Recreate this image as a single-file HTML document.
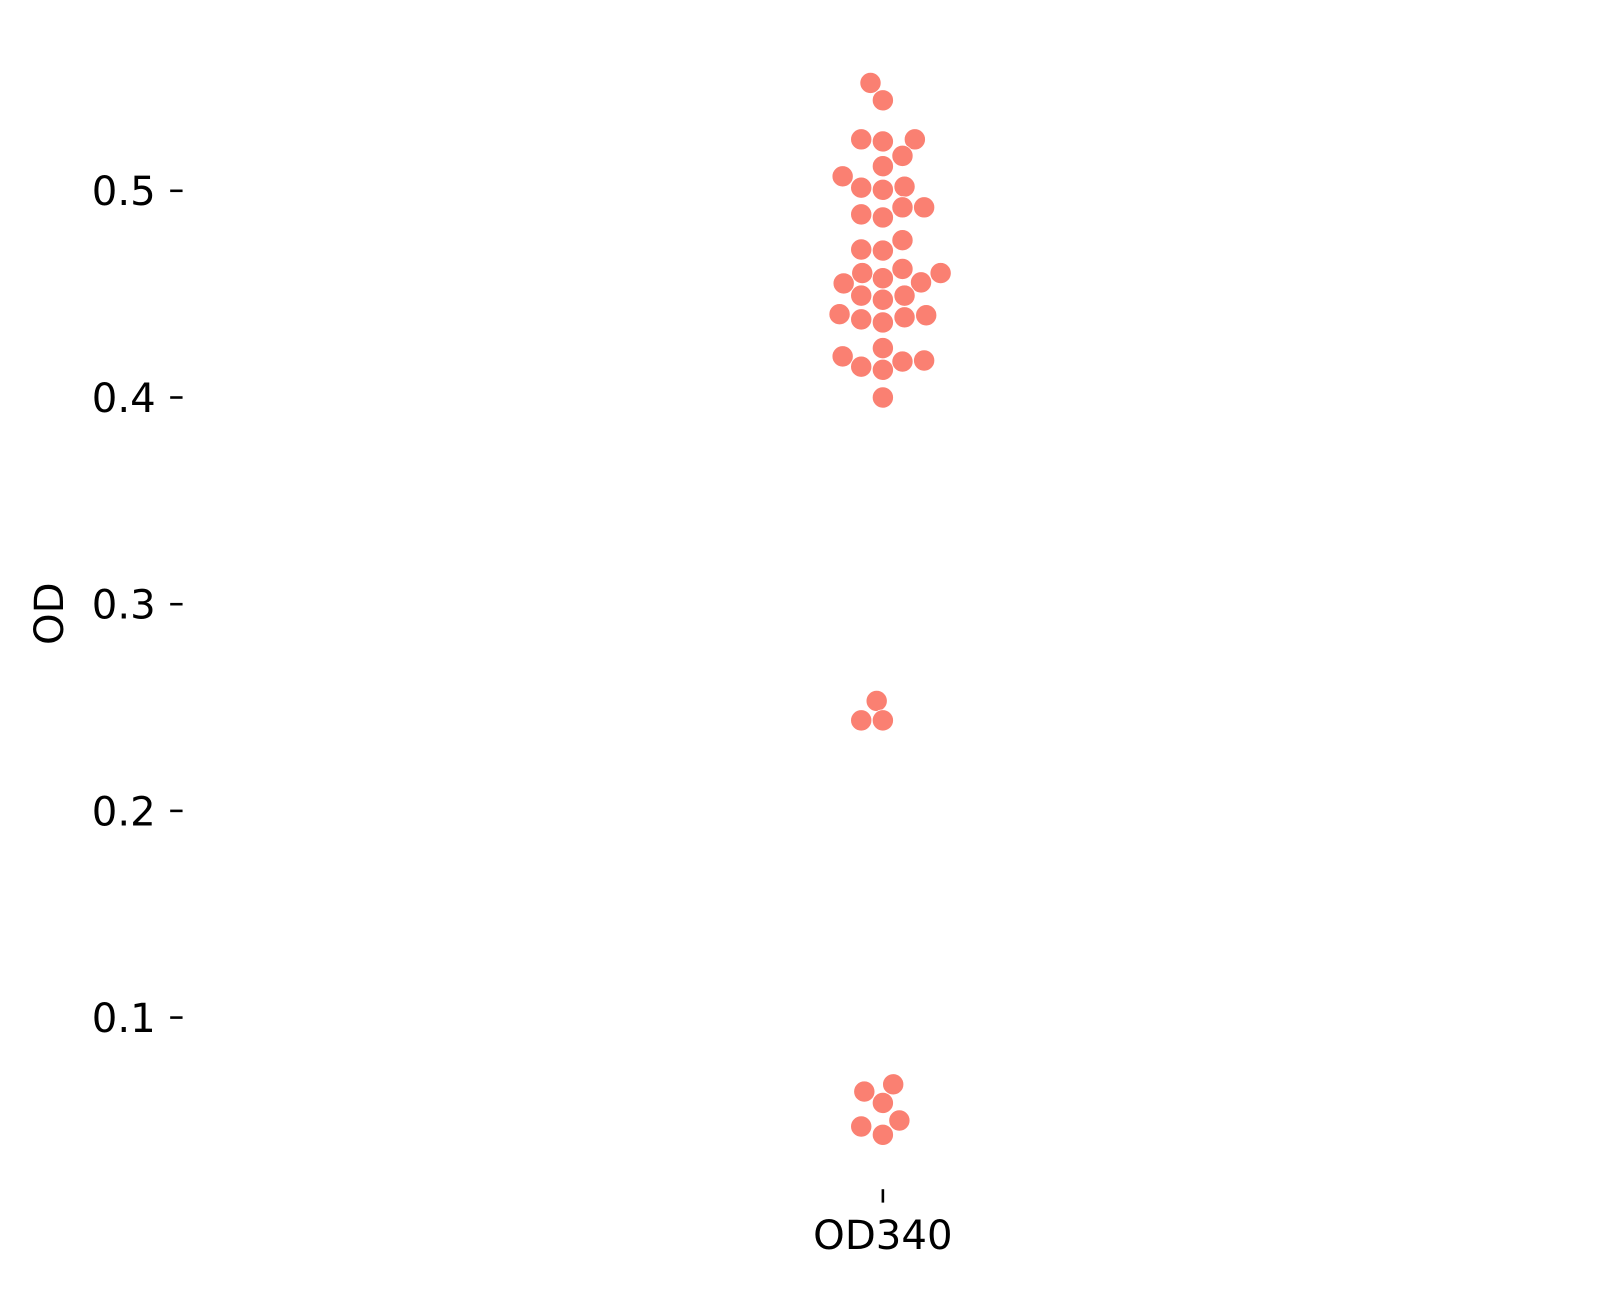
<!DOCTYPE html>
<html><head><meta charset="utf-8"><style>
body{margin:0;background:#fff}
svg text{font-family:"DejaVu Sans","Liberation Sans",sans-serif;font-size:39px;fill:#000}
</style></head><body>
<svg width="1609" height="1286">
<g id="c" transform="scale(1.0314)">
<text x="61" y="595" text-anchor="middle" transform="rotate(-90 61 595)">OD</text>
</g>
</svg>
<script>
const categories=["OD340"];
const values=[0.5522,0.5438,0.5249,0.5239,0.5249,0.5169,0.5119,0.5070,0.5015,0.5005,0.5020,0.4886,0.4871,0.4920,0.4920,0.4716,0.4711,0.4761,0.4552,0.4602,0.4577,0.4622,0.4557,0.4602,0.4493,0.4473,0.4493,0.4403,0.4378,0.4363,0.4388,0.4398,0.4239,0.4199,0.4149,0.4134,0.4174,0.4179,0.4000,0.2532,0.2438,0.2438,0.0642,0.0677,0.0587,0.0502,0.0473,0.0433];
const offsets=[-12,0,-21,0,31,19,0,-39,-21,0,21,-21,0,19,40,-21,0,19,-38,-20,0,19,37,56,-21,0,21,-42,-21,0,21,42,0,-39,-21,0,19,40,0,-6,-21,0,-18,10,0,16,-21,0];
const yTicks=[0.1,0.2,0.3,0.4,0.5];
const svg=document.getElementById('c');const NS="http://www.w3.org/2000/svg";
const y=v=>185+(0.5-v)*2004;
const x=()=>856;
yTicks.forEach(t=>{
 const l=document.createElementNS(NS,'line');
 
 
 l.setAttribute('x1',165);l.setAttribute('x2',177);l.setAttribute('y1',y(t));l.setAttribute('y2',y(t));l.setAttribute('stroke','#000');l.setAttribute('stroke-width','2.5');svg.appendChild(l);
 const tx=document.createElementNS(NS,'text');
 
 
 tx.setAttribute('x',151);tx.setAttribute('y',y(t)+14);tx.setAttribute('text-anchor','end');tx.textContent=t.toFixed(1);svg.appendChild(tx);
});
categories.forEach(c=>{
 const l=document.createElementNS(NS,'line');
 
 
 l.setAttribute('x1',x());l.setAttribute('x2',x());l.setAttribute('y1',1153);l.setAttribute('y2',1166);l.setAttribute('stroke','#000');l.setAttribute('stroke-width','2.5');svg.appendChild(l);
 const tx=document.createElementNS(NS,'text');
 
 
 tx.setAttribute('x',x());tx.setAttribute('y',1211);tx.setAttribute('text-anchor','middle');tx.textContent=c;svg.appendChild(tx);
});
values.forEach((v,i)=>{
 const d=document.createElementNS(NS,'circle');
 
 
 d.setAttribute('cx',x()+offsets[i]);d.setAttribute('cy',y(v));d.setAttribute('r',10.3);d.setAttribute('fill','#fa8072');d.setAttribute('stroke','#fff');d.setAttribute('stroke-width','0.8');svg.appendChild(d);
});
</script>
</body></html>
